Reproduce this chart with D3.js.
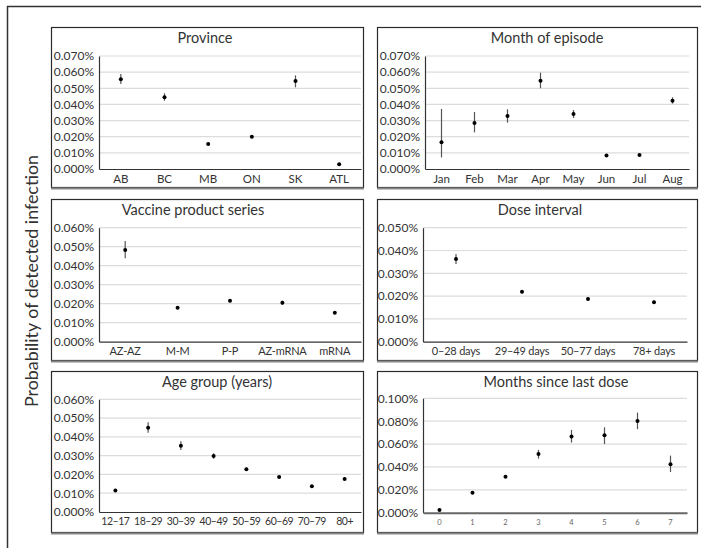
<!DOCTYPE html>
<html>
<head>
<meta charset="utf-8">
<script src="https://cdn.jsdelivr.net/npm/d3@7"></script>
<style>
  html, body { margin: 0; padding: 0; background: #fff; }
  svg { display: block; font-family: Lato, "Open Sans", sans-serif; }
</style>
</head>
<body>
<svg id="chart" width="701" height="548"></svg>
<script>
// ---------------- DATA (values in %) ----------------
const provinceCats = ["AB", "BC", "MB", "ON", "SK", "ATL"];
const provinceVals = [0.0556, 0.0444, 0.0155, 0.0200, 0.0545, 0.0029];
const provinceLo   = [0.0527, 0.0423, 0.0150, 0.0195, 0.0506, 0.0026];
const provinceHi   = [0.0589, 0.0469, 0.0160, 0.0205, 0.0580, 0.0032];
const provinceTicks = [0, 0.01, 0.02, 0.03, 0.04, 0.05, 0.06, 0.07];

const monthCats = ["Jan", "Feb", "Mar", "Apr", "May", "Jun", "Jul", "Aug"];
const monthVals = [0.0165, 0.0285, 0.0328, 0.0547, 0.0341, 0.0083, 0.0087, 0.0423];
const monthLo   = [0.0072, 0.0227, 0.0287, 0.0500, 0.0316, 0.0079, 0.0083, 0.0405];
const monthHi   = [0.0372, 0.0353, 0.0370, 0.0597, 0.0365, 0.0087, 0.0091, 0.0444];
const monthTicks = [0, 0.01, 0.02, 0.03, 0.04, 0.05, 0.06, 0.07];

const vaccineCats = ["AZ-AZ", "M-M", "P-P", "AZ-mRNA", "mRNA"];
const vaccineVals = [0.0483, 0.0179, 0.0216, 0.0205, 0.0153];
const vaccineLo   = [0.0439, 0.0173, 0.0208, 0.0195, 0.0147];
const vaccineHi   = [0.0530, 0.0185, 0.0224, 0.0215, 0.0159];
const vaccineTicks = [0, 0.01, 0.02, 0.03, 0.04, 0.05, 0.06];

const intervalCats = ["0\u201328 days", "29\u201349 days", "50\u201377 days", "78+ days"];
const intervalVals = [0.0363, 0.0219, 0.0187, 0.0173];
const intervalLo   = [0.0341, 0.0211, 0.0180, 0.0165];
const intervalHi   = [0.0385, 0.0227, 0.0194, 0.0181];
const intervalTicks = [0, 0.01, 0.02, 0.03, 0.04, 0.05];

const ageCats = ["12\u201317", "18\u201329", "30\u201339", "40\u201349", "50\u201359", "60\u201369", "70\u201379", "80+"];
const ageVals = [0.0114, 0.0449, 0.0353, 0.0298, 0.0227, 0.0186, 0.0137, 0.0176];
const ageLo   = [0.0106, 0.0422, 0.0330, 0.0283, 0.0219, 0.0180, 0.0132, 0.0170];
const ageHi   = [0.0122, 0.0478, 0.0376, 0.0313, 0.0235, 0.0192, 0.0142, 0.0182];
const ageTicks = [0, 0.01, 0.02, 0.03, 0.04, 0.05, 0.06];

const sinceCats = ["0", "1", "2", "3", "4", "5", "6", "7"];
const sinceVals = [0.0024, 0.0175, 0.0315, 0.0514, 0.0665, 0.0677, 0.0802, 0.0423];
const sinceLo   = [0.0020, 0.0168, 0.0305, 0.0473, 0.0613, 0.0601, 0.0730, 0.0356];
const sinceHi   = [0.0028, 0.0182, 0.0325, 0.0549, 0.0724, 0.0747, 0.0875, 0.0499];
const sinceTicks = [0, 0.02, 0.04, 0.06, 0.08, 0.10];

const titles = ["Province", "Month of episode", "Vaccine product series", "Dose interval", "Age group (years)", "Months since last dose"];
const yAxisLabel = "Probability of detected infection";

// ---------------- LAYOUT ----------------
const panels = [
  { title: titles[0], cats: provinceCats, vals: provinceVals, lo: provinceLo, hi: provinceHi, ticks: provinceTicks,
    box: [51, 27, 363, 187], plot: [99, 56, 361, 169], titleX: 205, labelSize: 11.5, labelSpacing: 0, small: false },
  { title: titles[1], cats: monthCats, vals: monthVals, lo: monthLo, hi: monthHi, ticks: monthTicks,
    box: [377, 27, 697, 187], plot: [425, 56, 689, 169], titleX: 547, labelSize: 11.5, labelSpacing: 0, small: false },
  { title: titles[2], cats: vaccineCats, vals: vaccineVals, lo: vaccineLo, hi: vaccineHi, ticks: vaccineTicks,
    box: [51, 199, 363, 360], plot: [99, 227.7, 361, 341.7], titleX: 193, labelSize: 11, labelSpacing: -0.2, small: false },
  { title: titles[3], cats: intervalCats, vals: intervalVals, lo: intervalLo, hi: intervalHi, ticks: intervalTicks,
    box: [377, 199, 697, 360], plot: [423, 227.7, 687, 341.7], titleX: 540, labelSize: 11, labelSpacing: -0.2, small: false },
  { title: titles[4], cats: ageCats, vals: ageVals, lo: ageLo, hi: ageHi, ticks: ageTicks,
    box: [51, 371, 363, 532], plot: [99, 399.3, 361, 512], titleX: 217, labelSize: 10.5, labelSpacing: -0.45, small: false },
  { title: titles[5], cats: sinceCats, vals: sinceVals, lo: sinceLo, hi: sinceHi, ticks: sinceTicks,
    box: [377, 371, 697, 532], plot: [423, 398.3, 687, 512.7], titleX: 556, labelSize: 7.5, labelSpacing: 0, small: true }
];

const svg = d3.select("#chart");
const fmt = v => d3.format(".3f")(v) + "%";

// outer frame (cropped at right and bottom)
svg.append("line").attr("x1", 7.5).attr("x2", 7.5).attr("y1", 6).attr("y2", 548)
  .attr("stroke", "#333").attr("stroke-width", 1.5);
svg.append("line").attr("x1", 7).attr("x2", 701).attr("y1", 6.5).attr("y2", 6.5)
  .attr("stroke", "#333").attr("stroke-width", 1.5);

// y axis label
svg.append("text")
  .attr("transform", "translate(37.5,281) rotate(-90)")
  .attr("text-anchor", "middle")
  .attr("font-size", 17)
  .attr("fill", "#333")
  .attr("textLength", 252)
  .attr("lengthAdjust", "spacingAndGlyphs")
  .text(yAxisLabel);

panels.forEach(p => {
  const [bx0, by0, bx1, by1] = p.box;
  const [px0, py0, px1, py1] = p.plot;
  const g = svg.append("g");

  // panel box
  g.append("rect").attr("x", bx0 + 0.5).attr("y", by0 + 0.5)
    .attr("width", bx1 - bx0).attr("height", by1 - by0)
    .attr("fill", "#fff").attr("stroke", "#2a2a2a").attr("stroke-width", 1.2);
  g.append("line").attr("x1", bx0).attr("x2", bx1 + 1).attr("y1", by1 + 1.5).attr("y2", by1 + 1.5)
    .attr("stroke", "#888").attr("stroke-width", 2);

  // title
  g.append("text").attr("x", p.titleX).attr("y", by0 + 16)
    .attr("text-anchor", "middle").attr("font-size", 14.5).attr("fill", "#333")
    .text(p.title);

  const x = d3.scaleBand().domain(p.cats).range([px0, px1]);
  const y = d3.scaleLinear().domain([0, d3.max(p.ticks)]).range([py1, py0]);
  const cx = c => x(c) + x.bandwidth() / 2;

  // gridlines
  g.append("g").selectAll("line").data(p.ticks.slice(1)).join("line")
    .attr("x1", px0).attr("x2", px1)
    .attr("y1", d => y(d)).attr("y2", d => y(d))
    .attr("stroke", "#dcdcdc").attr("stroke-width", 1.2);

  // y axis
  const ya = g.append("g").attr("transform", `translate(${px0},0)`)
    .call(d3.axisLeft(y).tickValues(p.ticks).tickFormat(fmt).tickSize(0).tickPadding(5));
  ya.select(".domain").attr("stroke", "#333").attr("stroke-width", 1.2);
  ya.selectAll("text").attr("font-size", 12).attr("fill", "#333")
    .attr("font-family", "Lato, sans-serif");

  // x axis
  const xa = g.append("g").attr("transform", `translate(0,${py1})`)
    .call(d3.axisBottom(x).tickSize(0).tickPadding(p.small ? 7 : 5.5));
  xa.select(".domain").attr("stroke", p.small ? "#666" : "#333").attr("stroke-width", p.small ? 2 : 1.2);
  xa.selectAll("text").attr("font-size", p.labelSize).attr("fill", p.small ? "#666" : "#333")
    .attr("letter-spacing", p.labelSpacing)
    .attr("font-family", "Lato, sans-serif");

  // error bars
  g.append("g").selectAll("line").data(p.cats).join("line")
    .attr("x1", d => cx(d)).attr("x2", d => cx(d))
    .attr("y1", (d, i) => y(p.lo[i])).attr("y2", (d, i) => y(p.hi[i]))
    .attr("stroke", "#555").attr("stroke-width", 1.2);

  // points
  g.append("g").selectAll("circle").data(p.cats).join("circle")
    .attr("cx", d => cx(d)).attr("cy", (d, i) => y(p.vals[i]))
    .attr("r", 2).attr("fill", "#000");
});
</script>
</body>
</html>
